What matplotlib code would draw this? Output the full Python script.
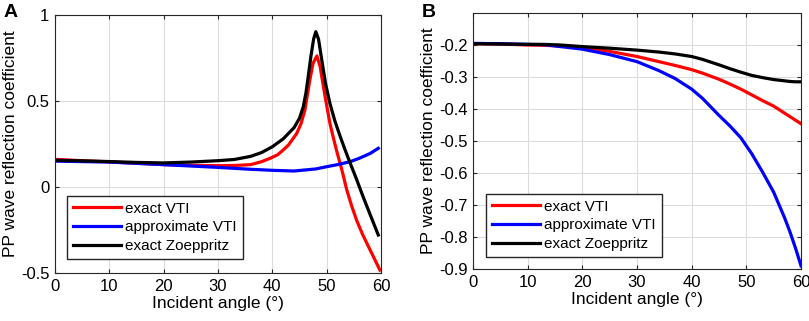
import numpy as np
import matplotlib.pyplot as plt

plt.rcParams['font.family'] = ['Liberation Sans', 'DejaVu Sans']

# Panel A: exact VTI (red)
ang_red_a = [0.5, 5, 10, 15, 20, 25, 30, 33, 36, 38, 39.6, 41, 42, 43, 44.5, 45.3,
             46, 46.9, 47.5, 48.2, 48.8, 49.4, 50, 50.6, 51.2, 51.8, 52.8, 53.7,
             54.6, 55.5, 56.6, 57.7, 58.8, 59.8]
red_a = [0.16, 0.153, 0.146, 0.138, 0.13, 0.126, 0.124, 0.125, 0.13, 0.147, 0.167,
         0.188, 0.215, 0.245, 0.312, 0.37, 0.448, 0.622, 0.72, 0.762, 0.7, 0.583,
         0.475, 0.37, 0.29, 0.215, 0.099, -0.017, -0.11, -0.192, -0.275, -0.347,
         -0.418, -0.483]

# Panel A: approximate VTI (blue)
ang_blu_a = [0.5, 10, 20, 30, 36, 40, 44, 48, 50, 52, 54.3, 56, 58, 59.5]
blu_a = [0.15, 0.145, 0.13, 0.114, 0.103, 0.097, 0.093, 0.105, 0.118, 0.13, 0.147,
         0.167, 0.195, 0.225]

# Panel A: exact Zoeppritz (black)
ang_blk_a = [0.5, 5, 10, 15, 20, 25, 30, 33, 36, 38, 40, 42, 44, 45, 45.7, 46.2,
             46.6, 47.1, 47.6, 48, 48.5, 49.1, 49.8, 50.6, 51.5, 52.5, 53.4, 54.3,
             55.5, 56.7, 58, 59.5]
blk_a = [0.155, 0.152, 0.148, 0.143, 0.14, 0.145, 0.153, 0.16, 0.178, 0.2, 0.234,
         0.28, 0.345, 0.4, 0.467, 0.55, 0.641, 0.76, 0.86, 0.903, 0.86, 0.738, 0.6,
         0.486, 0.385, 0.293, 0.215, 0.141, 0.045, -0.056, -0.16, -0.279]

# Panel B
ang_b = [0.5, 5, 10, 13, 16, 20, 25, 30, 34, 37, 40, 42, 45, 47, 49, 51, 53, 55,
         57, 58, 59, 60]
red_b = [-0.196, -0.197, -0.2, -0.201, -0.203, -0.206, -0.22, -0.236, -0.252,
         -0.264, -0.277, -0.288, -0.307, -0.322, -0.338, -0.356, -0.374, -0.391,
         -0.413, -0.424, -0.435, -0.446]
blu_b = [-0.195, -0.196, -0.198, -0.199, -0.205, -0.213, -0.23, -0.252, -0.28,
         -0.305, -0.338, -0.367, -0.42, -0.453, -0.49, -0.54, -0.598, -0.66,
         -0.74, -0.785, -0.835, -0.89]
blk_b = [-0.196, -0.197, -0.198, -0.198, -0.2, -0.205, -0.21, -0.216, -0.222,
         -0.228, -0.236, -0.245, -0.262, -0.274, -0.285, -0.295, -0.302, -0.308,
         -0.312, -0.314, -0.315, -0.315]

labels = ['exact VTI', 'approximate VTI', 'exact Zoeppritz']

fig = plt.figure(figsize=(8.09, 3.21), dpi=100)
ax1 = fig.add_axes([55 / 809, 1 - 273 / 321, 326 / 809, 258 / 321])
ax2 = fig.add_axes([473 / 809, 1 - 269 / 321, 328 / 809, 256 / 321])


def style(ax):
    ax.grid(True, color='#dcdcdc', lw=0.8)
    ax.set_axisbelow(True)
    ax.tick_params(direction='in', top=True, right=True, labelsize=12,
                   length=3, color='#262626', pad=4)
    for s in ax.spines.values():
        s.set_color('#262626')
        s.set_linewidth(0.8)
    ax.set_xlim(0, 60)
    ax.set_xticks(range(0, 61, 10))
    ax.set_xlabel('Incident angle (°)', fontsize=12.5, labelpad=2)
    ax.set_ylabel('PP wave reflection coefficient', fontsize=12.5, labelpad=2)


def legend(ax, x0, y0):
    ax.legend(loc='lower left', bbox_to_anchor=(x0, y0), borderaxespad=0,
              fontsize=11, handlelength=3.1, handletextpad=0.3, frameon=True,
              fancybox=False, edgecolor='#262626', framealpha=1,
              borderpad=0.4, labelspacing=0.3)


ax1.plot(ang_red_a, red_a, color='#ff0000', lw=2.3, label=labels[0])
ax1.plot(ang_blu_a, blu_a, color='#0000ff', lw=2.3, label=labels[1])
ax1.plot(ang_blk_a, blk_a, color='black', lw=2.3, label=labels[2])
style(ax1)
ax1.set_ylim(-0.5, 1)
ax1.set_yticks([-0.5, 0, 0.5, 1])
ax1.set_yticklabels(['-0.5', '0', '0.5', '1'])
legend(ax1, 0.037, 0.054)

ax2.plot(ang_b, red_b, color='#ff0000', lw=2.3, label=labels[0])
ax2.plot(ang_b, blu_b, color='#0000ff', lw=2.3, label=labels[1])
ax2.plot(ang_b, blk_b, color='black', lw=2.3, label=labels[2])
style(ax2)
ax2.set_ylim(-0.9, -0.1)
ax2.set_yticks(np.arange(-0.9, -0.15, 0.1))
ax2.set_yticklabels(['-0.9', '-0.8', '-0.7', '-0.6', '-0.5', '-0.4', '-0.3', '-0.2'])
legend(ax2, 0.04, 0.047)

fig.text(4 / 809, 1 - 17 / 321, 'A', fontsize=14, fontweight='bold')
fig.text(422 / 809, 1 - 17 / 321, 'B', fontsize=14, fontweight='bold')

fig.savefig('out.png', dpi=100)
